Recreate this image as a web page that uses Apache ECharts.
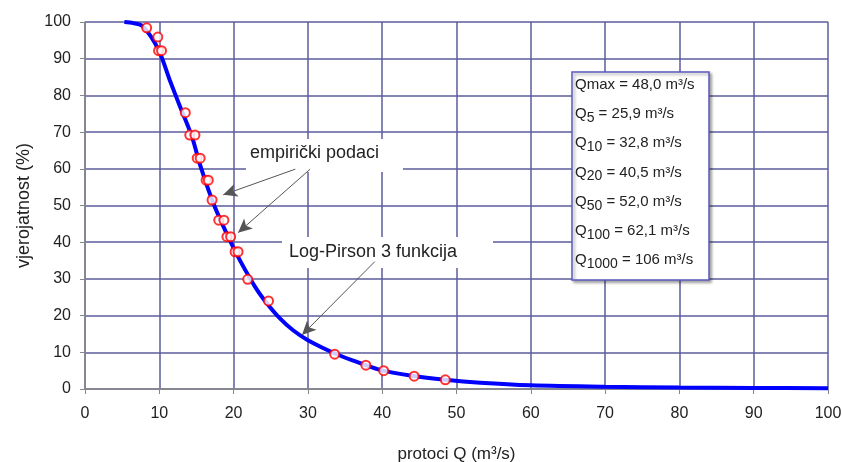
<!DOCTYPE html>
<html lang="hr">
<head>
    <meta charset="UTF-8">
    <title>Log-Pirson 3</title>
</head>
<script src="https://cdn.jsdelivr.net/npm/echarts@6/dist/echarts.min.js"></script>
<body style="margin:0;background:#fff;">
    <div id="main" style="width: 843px;height:462px;"></div>
    <script type="text/javascript">
       // empirijske tocke (protok, vjerojatnost)
       var empQ = [8.3, 9.8, 9.9, 10.3, 13.5, 14.1, 14.8, 15.1, 15.5, 16.3, 16.6, 17.1, 18.0, 18.7,
                   19.1, 19.6, 20.2, 20.6, 21.9, 24.7, 33.6, 37.8, 40.2, 44.3, 48.5];
       var empP = [98.4, 95.9, 92.2, 92.2, 75.3, 69.2, 69.2, 62.9, 62.9, 56.9, 56.9, 51.5, 46.0, 46.0,
                   41.5, 41.5, 37.4, 37.4, 29.9, 24.0, 9.5, 6.5, 5.0, 3.5, 2.5];

       // Log-Pirson 3 krivulja
       var fitQ = [5.3, 6.5, 7.8, 9.9, 11.4, 12.8, 14.4, 15.5, 17.3, 19.5, 21.0, 23.0, 24.5, 26.2,
                   28.0, 30.0, 33.5, 36.0, 39.7, 44.0, 48.5, 53.2, 60, 70, 80, 90, 100];
       var fitP = [100, 99.7, 98.8, 92.4, 84.2, 76.9, 68.7, 61.0, 50.5, 40.5, 34.5, 27.5, 23.3, 19.3,
                   16.0, 13.3, 9.8, 7.8, 5.2, 3.6, 2.5, 1.7, 1.0, 0.6, 0.4, 0.3, 0.2];

       var xTicks = [0, 10, 20, 30, 40, 50, 60, 70, 80, 90, 100];
       var yTicks = [0, 10, 20, 30, 40, 50, 60, 70, 80, 90, 100];

       // strelice: [od, do] u koordinatama podataka
       var arrows = [
           [[28.3, 59.9], [18.6, 52.9]],
           [[30.3, 59.9], [20.6, 42.6]],
           [[39.0, 34.7], [29.2, 14.7]]
       ];

       // tekst u okviru
       var boxLines = [
           ['Qmax', '', ' = 48,0 m³/s'],
           ['Q', '5', ' = 25,9 m³/s'],
           ['Q', '10', ' = 32,8 m³/s'],
           ['Q', '20', ' = 40,5 m³/s'],
           ['Q', '50', ' = 52,0 m³/s'],
           ['Q', '100', ' = 62,1 m³/s'],
           ['Q', '1000', ' = 106 m³/s']
       ];

       var myChart = echarts.init(document.getElementById("main"));
       var font = 'Liberation Sans, Arial, sans-serif';
       var gridColor = '#5c5c9c';

       var empData = [];
       for (var i = 0; i < empQ.length; i++) empData.push([empQ[i], empP[i]]);
       var fitData = [];
       for (var j = 0; j < fitQ.length; j++) fitData.push([fitQ[j], fitP[j]]);

       var arrowData = arrows.map(function (a) {
           return [{coord: a[0]}, {coord: a[1]}];
       });

       var graphics = [
           {type: 'rect', z: 1, shape: {x: 246, y: 139, width: 157, height: 33}, style: {fill: '#fff'}},
           {type: 'text', z: 1, left: 250, top: 144, style: {text: 'empirički podaci', font: '18px ' + font, fill: '#222'}},
           {type: 'rect', z: 1, shape: {x: 282, y: 237, width: 211, height: 31}, style: {fill: '#fff'}},
           {type: 'text', z: 1, left: 289, top: 243, style: {text: 'Log-Pirson 3 funkcija', font: '18px ' + font, fill: '#222'}},
           {type: 'rect', z: 1, shape: {x: 572, y: 72, width: 137, height: 208},
               style: {fill: '#fff', stroke: '#5a5ac0', lineWidth: 1.5, shadowColor: 'rgba(0,0,0,0.35)', shadowBlur: 3, shadowOffsetX: 2, shadowOffsetY: 2}}
       ];
       boxLines.forEach(function (l, k) {
           graphics.push({
               type: 'text', z: 1, left: 575, top: 77 + k * 29.3,
               style: {
                   text: '{n|' + l[0] + '}' + (l[1] ? '{s|' + l[1] + '}' : '') + '{n|' + l[2] + '}',
                   fill: '#222',
                   rich: {
                       n: {fontSize: 15, fontFamily: font, lineHeight: 22, verticalAlign: 'middle', fill: '#222'},
                       s: {fontSize: 14, fontFamily: font, lineHeight: 12, verticalAlign: 'bottom', fill: '#222'}
                   }
               }
           });
       });

       var option = {
           animation: false,
           backgroundColor: '#fff',
           grid: {left: 85, right: 15, top: 22, bottom: 73, outerBoundsMode: 'none', containLabel: false},
           xAxis: {
               type: 'value', min: 0, max: 100, interval: 10,
               name: 'protoci Q (m³/s)', nameLocation: 'middle', nameGap: 57,
               nameTextStyle: {fontSize: 17, fontFamily: font, color: '#222'},
               axisLine: {lineStyle: {color: '#888', width: 1.5}},
               axisTick: {show: true, length: 5, lineStyle: {color: '#888'}},
               axisLabel: {fontSize: 16, fontFamily: font, color: '#222', margin: 17,
                   formatter: function (v) { return xTicks.indexOf(v) >= 0 ? String(v) : ''; }},
               splitLine: {show: true, lineStyle: {color: gridColor, width: 1.5}}
           },
           yAxis: {
               type: 'value', min: 0, max: 100, interval: 10,
               name: 'vjerojatnost (%)', nameLocation: 'middle', nameGap: 52,
               nameTextStyle: {fontSize: 18, fontFamily: font, color: '#222'},
               axisLine: {show: true, lineStyle: {color: '#888', width: 1.5}},
               axisTick: {show: true, length: 5, lineStyle: {color: '#888'}},
               axisLabel: {fontSize: 16, fontFamily: font, color: '#222', margin: 14,
                   formatter: function (v) { return yTicks.indexOf(v) >= 0 ? String(v) : ''; }},
               splitLine: {show: true, lineStyle: {color: gridColor, width: 1.5}}
           },
           graphic: graphics,
           series: [
               {
                   name: 'Log-Pirson 3 funkcija',
                   type: 'line',
                   data: fitData,
                   smooth: 0.3,
                   showSymbol: false,
                   lineStyle: {color: '#0000ff', width: 4},
                   z: 2
               },
               {
                   name: 'empirički podaci',
                   type: 'scatter',
                   data: empData,
                   symbol: 'circle',
                   symbolSize: 9,
                   itemStyle: {color: '#fff', borderColor: '#ff0000', borderWidth: 2},
                   z: 3,
                   markLine: {
                       silent: true,
                       symbol: ['none', 'arrow'],
                       symbolSize: [10, 14],
                       label: {show: false},
                       lineStyle: {color: '#555', width: 1, type: 'solid'},
                       itemStyle: {color: '#000'},
                       data: arrowData
                   }
               }
           ]
       };

       myChart.setOption(option);
    </script>
</body>
</html>
